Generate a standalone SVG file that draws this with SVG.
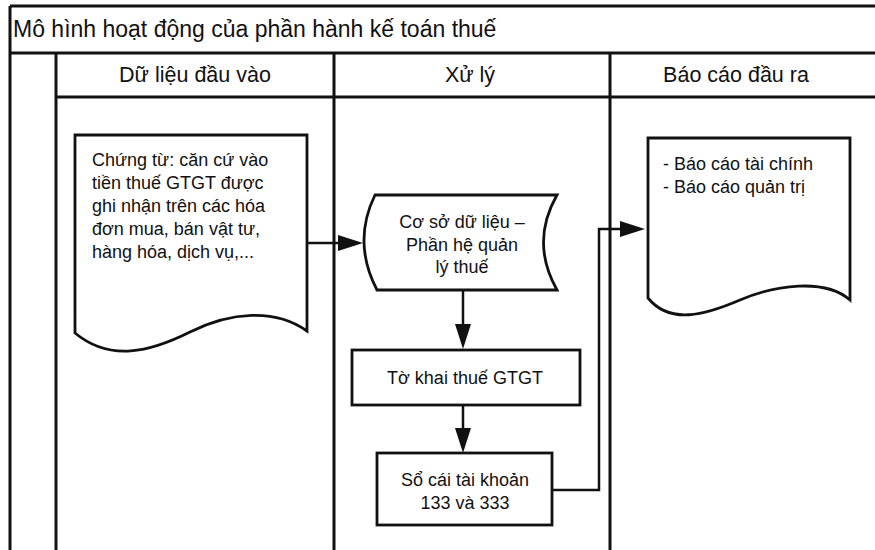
<svg xmlns="http://www.w3.org/2000/svg" width="875" height="550" viewBox="0 0 875 550">
<style>
  .grid { stroke: #111; stroke-width: 3; fill: none; }
  .shape { stroke: #111; stroke-width: 2.8; fill: #fff; }
  .conn { stroke: #111; stroke-width: 2.5; fill: none; }
  text { font-family: "Liberation Sans", Arial, "DejaVu Sans", sans-serif; fill: #111; }
  .title { font-size: 23px; }
  .head { font-size: 21.5px; text-anchor: middle; }
  .lbl { font-size: 18px; }
  .mid { text-anchor: middle; }
</style>
<defs>
  <marker id="ah" markerUnits="userSpaceOnUse" markerWidth="25" markerHeight="16" refX="0" refY="8" orient="auto" overflow="visible">
    <path d="M0,0 L25,8 L0,16 Z" fill="#111"/>
  </marker>
</defs>
<rect width="875" height="550" fill="#fff"/>
<g id="frame">
  <path class="grid" d="M10,6 H877 M10,6 V552 M10,53 H877 M56,53 V552 M56,97 H877 M334,53 V552 M610,53 V552"/>
  <text class="title" x="13" y="37">Mô hình hoạt động của phần hành kế toán thuế</text>
  <text class="head" x="195" y="82">Dữ liệu đầu vào</text>
  <text class="head" x="470" y="82">Xử lý</text>
  <text class="head" x="736" y="82">Báo cáo đầu ra</text>
</g>
<g id="input-doc">
  <path class="shape" d="M75,135 H307 V331 C275,308 230,312 190,332 C150,352 110,362 75,333 Z"/>
  <text class="lbl" x="92" y="166">Chứng từ: căn cứ vào</text>
  <text class="lbl" x="92" y="189">tiền thuế GTGT được</text>
  <text class="lbl" x="92" y="212">ghi nhận trên các hóa</text>
  <text class="lbl" x="92" y="235">đơn mua, bán vật tư,</text>
  <text class="lbl" x="92" y="258">hàng hóa, dịch vụ,...</text>
</g>
<g id="database">
  <path class="shape" d="M375,195 L557,195 Q530,242 557,290 L377,290 Q352,242 375,195 Z"/>
  <text class="lbl mid" x="462" y="228">Cơ sở dữ liệu –</text>
  <text class="lbl mid" x="462" y="251">Phần hệ quản</text>
  <text class="lbl mid" x="462" y="273">lý thuế</text>
</g>
<g id="vat-return">
  <rect class="shape" x="352" y="350" width="228" height="55"/>
  <text class="lbl mid" x="465" y="384">Tờ khai thuế GTGT</text>
</g>
<g id="ledger">
  <rect class="shape" x="377" y="453" width="175" height="72"/>
  <text class="lbl mid" x="465" y="486">Sổ cái tài khoản</text>
  <text class="lbl mid" x="465" y="509">133 và 333</text>
</g>
<g id="report-doc">
  <path class="shape" d="M648,138 H850 V300 C825,278 775,285 740,300 C705,315 670,325 648,298 Z"/>
  <text class="lbl" x="663" y="170">- Báo cáo tài chính</text>
  <text class="lbl" x="663" y="193">- Báo cáo quản trị</text>
</g>
<g id="connectors">
  <path class="conn" d="M307,243 H338" marker-end="url(#ah)"/>
  <path class="conn" d="M463,291 V324" marker-end="url(#ah)"/>
  <path class="conn" d="M463,406 V428" marker-end="url(#ah)"/>
  <path class="conn" d="M552,490 H599 V229 H620" marker-end="url(#ah)"/>
</g>
</svg>
